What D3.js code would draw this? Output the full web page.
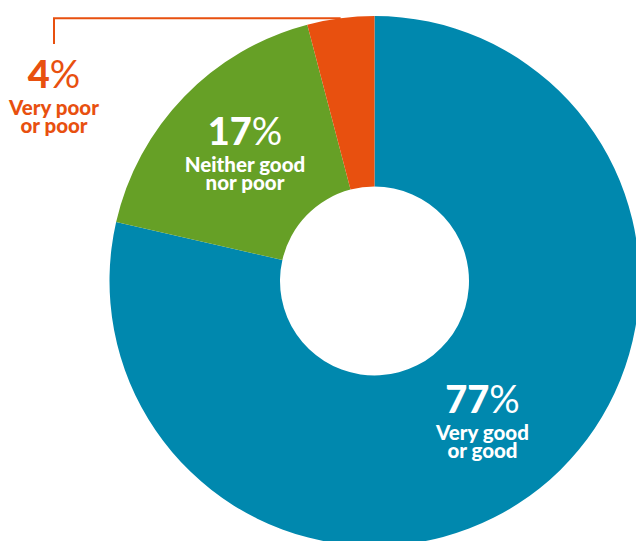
<!DOCTYPE html>
<html>
<head>
<meta charset="utf-8">
<script src="https://cdn.jsdelivr.net/npm/d3@7"></script>
<style>
  body { margin: 0; background: #fff; }
  text { font-family: Lato, "Open Sans", sans-serif; font-weight: 900; }
</style>
</head>
<body>
<script>
const categories = ["Very good or good", "Neither good nor poor", "Very poor or poor"];
const values = [77, 17, 4];
const labelLines = [["Very good", "or good"], ["Neither good", "nor poor"], ["Very poor", "or poor"]];
const colors = ["#0088ae", "#66a026", "#e8500f"];

const w = 636;
const h = 541;
const cx = 374.5;
const cy = 281;
const outerR = 265;
const innerR = 94.5;

const svg = d3.select("body").append("svg").attr("width", w).attr("height", h);
const g = svg.append("g").attr("transform", `translate(${cx},${cy})`);

const pie = d3.pie().sort(null).value((d) => d);
const arc = d3.arc().innerRadius(innerR).outerRadius(outerR);
const arcs = pie(values);

g.selectAll("path")
  .data(arcs)
  .enter()
  .append("path")
  .attr("d", arc)
  .attr("fill", (d, i) => colors[i]);

// label anchor positions (absolute)
const labelPos = [[482.5, 413], [245, 145], [54, 88]];
const textColors = ["#fff", "#fff", "#e8500f"];

labelPos.forEach((p, i) => {
  const t = svg.append("text")
    .attr("x", p[0])
    .attr("y", p[1])
    .attr("text-anchor", "middle")
    .attr("fill", textColors[i])
    .style("font-size", "38px");
  t.append("tspan").text(values[i]);
  t.append("tspan").style("font-weight", 400).text("%");
  labelLines[i].forEach((line, j) => {
    svg.append("text")
      .attr("x", p[0])
      .attr("y", p[1] + 26.5 + j * 18.5)
      .attr("text-anchor", "middle")
      .attr("fill", textColors[i])
      .style("font-size", "20.5px")
      .text(line);
  });
});

// leader line for the small slice
const small = arcs[2];
const mid = (small.startAngle + small.endAngle) / 2;
const ex = cx + outerR * Math.sin(mid);
const ey = cy - outerR * Math.cos(mid);
svg.append("path")
  .attr("d", `M${labelPos[2][0]},${labelPos[2][1] - 44} V${ey} H${ex}`)
  .attr("fill", "none")
  .attr("stroke", colors[2])
  .attr("stroke-width", 2);
</script>
</body>
</html>
